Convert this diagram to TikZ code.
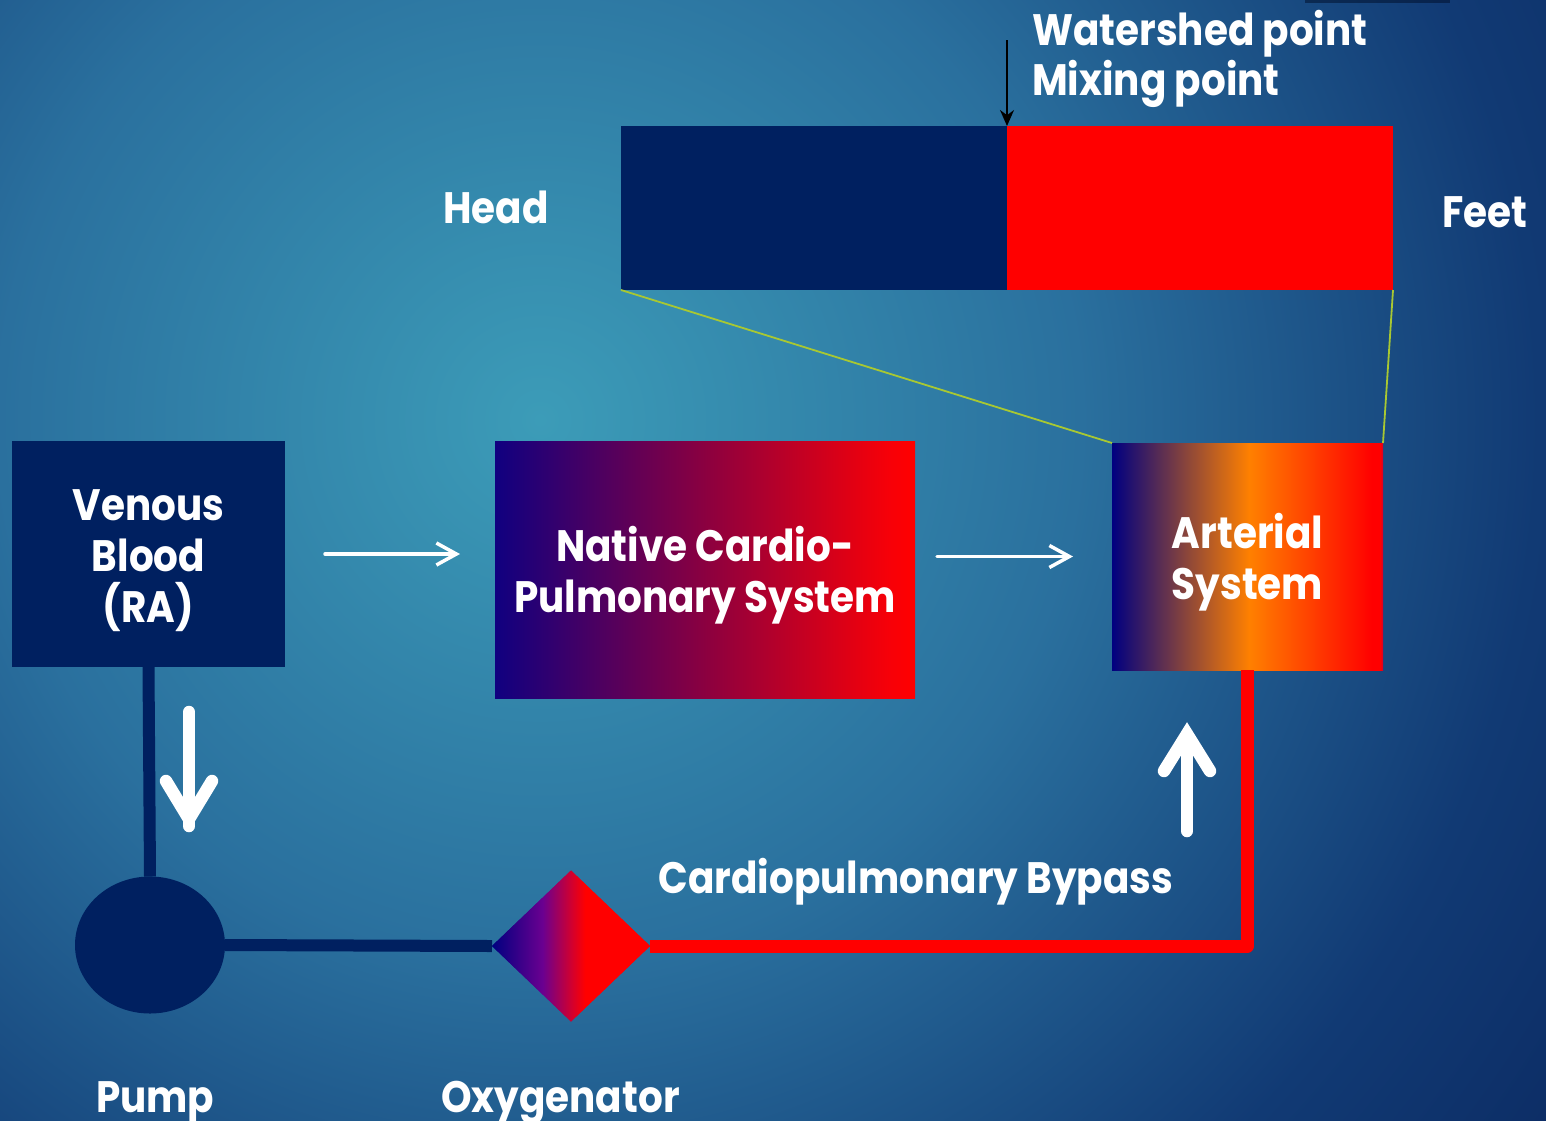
\documentclass[tikz,border=0pt]{standalone}
\usepackage{fontspec}
\setmainfont{Poppins}[BoldFeatures={FakeStretch=0.885}]
\usetikzlibrary{arrows.meta,shapes.geometric}
\definecolor{navy}{HTML}{002060}
\definecolor{bgc0}{HTML}{3C9CB8}
\definecolor{bgc1}{HTML}{2A709E}
\definecolor{bgc2}{HTML}{113A74}
\definecolor{bgc3}{HTML}{0B2A62}
\definecolor{limeline}{HTML}{A8C832}
\definecolor{dblue}{HTML}{000080}
\definecolor{nblue}{HTML}{100080}
\definecolor{purp}{HTML}{6A0090}
\definecolor{crim}{HTML}{D00030}
\definecolor{orng}{HTML}{FF8000}
\pgfdeclareradialshading{bgshade}{\pgfpointorigin}{color(0bp)=(bgc0); color(10.4bp)=(bgc1); color(19.2bp)=(bgc2); color(25bp)=(bgc3); color(50bp)=(bgc3)}
\pgfdeclarehorizontalshading{nativeshade}{100bp}{color(0bp)=(nblue); color(25bp)=(nblue); color(72bp)=(red!97!blue); color(75bp)=(red); color(100bp)=(red)}
\pgfdeclarehorizontalshading{artshade}{100bp}{color(0bp)=(dblue); color(25bp)=(dblue); color(50.3bp)=(orng); color(73bp)=(red); color(74.5bp)=(red); color(75bp)=(crim); color(100bp)=(crim)}
\pgfdeclarehorizontalshading{oxyshade}{100bp}{color(0bp)=(dblue); color(25bp)=(dblue); color(41bp)=(purp); color(50bp)=(crim); color(54.5bp)=(red); color(75bp)=(red); color(100bp)=(red)}
\tikzset{
  lbl/.style={text=white, font=\bfseries\fontsize{44}{51}\selectfont, inner sep=0pt, align=center},
  boxnode/.style={inner sep=0pt, outer sep=0pt, draw=none},
  navyline/.style={draw=navy, line width=12pt},
  redline/.style={draw=red, line width=13pt, line join=round},
  thinarrow/.style={draw=white, line width=3.5pt, line cap=round, -{Straight Barb[length=20pt,width=22pt]}},
  bigarrow/.style={draw=white, line width=12.5pt, line cap=round, line join=miter},
  guide/.style={draw=limeline, line width=1.8pt}
}
\begin{document}
\begin{tikzpicture}[x=1pt,y=-1pt]
\useasboundingbox (0,0) rectangle (1546,1120);
\begin{scope}
\clip (0,0) rectangle (1546,1120);
\shade[shading=bgshade] (540,420) circle (1300pt);
\fill[black!60!navy, opacity=0.5] (1305,0) rectangle (1450,3);
\end{scope}

% top bar
\node[boxnode, fill=navy, minimum width=386pt, minimum height=164pt] (headbar) at (814,208) {};
\node[boxnode, fill=red, minimum width=386pt, minimum height=164pt] (feetbar) at (1200,208) {};
\coordinate (ws) at (1007,40);
\draw[black, line width=2pt, -{Stealth[length=16pt,width=14pt]}] (ws) -- (feetbar.north west);
\node[lbl, anchor=base west] (wsl) at (1032,45) {Watershed point};
\node[lbl, anchor=base west] (mxl) at (1032,95) {Mixing point};
\node[lbl] (head) at (496,207) {Head};
\node[lbl] (feet) at (1485,212) {Feet};

% boxes
\node[boxnode, fill=navy, minimum width=273pt, minimum height=226pt] (venous) at (148.5,554) {};
\node[lbl] at ([yshift=-7pt]venous.center) {Venous\\Blood\\(RA)};
\node[boxnode, shading=nativeshade, minimum width=420pt, minimum height=257pt] (native) at (705,569.5) {};
\node[lbl] at ([yshift=-6pt]native.center) {Native Cardio-\\Pulmonary System};
\node[boxnode, shading=artshade, minimum width=271pt, minimum height=227pt] (arterial) at (1247.5,556.5) {};
\node[lbl] at ([yshift=-6pt]arterial.center) {Arterial\\System};

\draw[guide] (headbar.south west) -- (arterial.north west);
\draw[guide] (feetbar.south east) -- (arterial.north east);

% circuit
\node[boxnode, ellipse, fill=navy, minimum width=150pt, minimum height=137pt] (pump) at (150,945) {};
\node[boxnode, diamond, shading=oxyshade, minimum width=158pt, minimum height=151pt] (oxy) at (571,946) {};
\draw[navyline] (venous.south) -- (pump.north);
\draw[navyline] (pump.east) -- (oxy.west);
\draw[redline] (arterial.south) |- (oxy.east);
\node[boxnode, diamond, shading=oxyshade, minimum width=158pt, minimum height=151pt] at (oxy.center) {};

\draw[thinarrow, shorten <=40pt, shorten >=35pt] (venous.east) -- (venous.east -| native.west);
\draw[thinarrow, shorten <=22pt, shorten >=39pt] (arterial.west -| native.east) -- (arterial.west);

% big white arrows
\coordinate (dtop) at (189,712);
\coordinate (dtip) at (189,819);
\draw[bigarrow] (dtop) -- (189,826);
\draw[bigarrow] (166,781) -- (dtip) -- (212,781);
\coordinate (ubot) at (1187,831);
\coordinate (utip) at (1187,734);
\draw[bigarrow] (ubot) -- (1187,740);
\draw[bigarrow] (1164,771) -- (utip) -- (1210,771);

\node[lbl, anchor=base] (cpb) at (916,893) {Cardiopulmonary Bypass};
\node[lbl, anchor=base west] (pumpl) at (96,1112) {Pump};
\node[lbl, anchor=base west] (oxyl) at (441,1112) {Oxygenator};
\end{tikzpicture}
\end{document}
